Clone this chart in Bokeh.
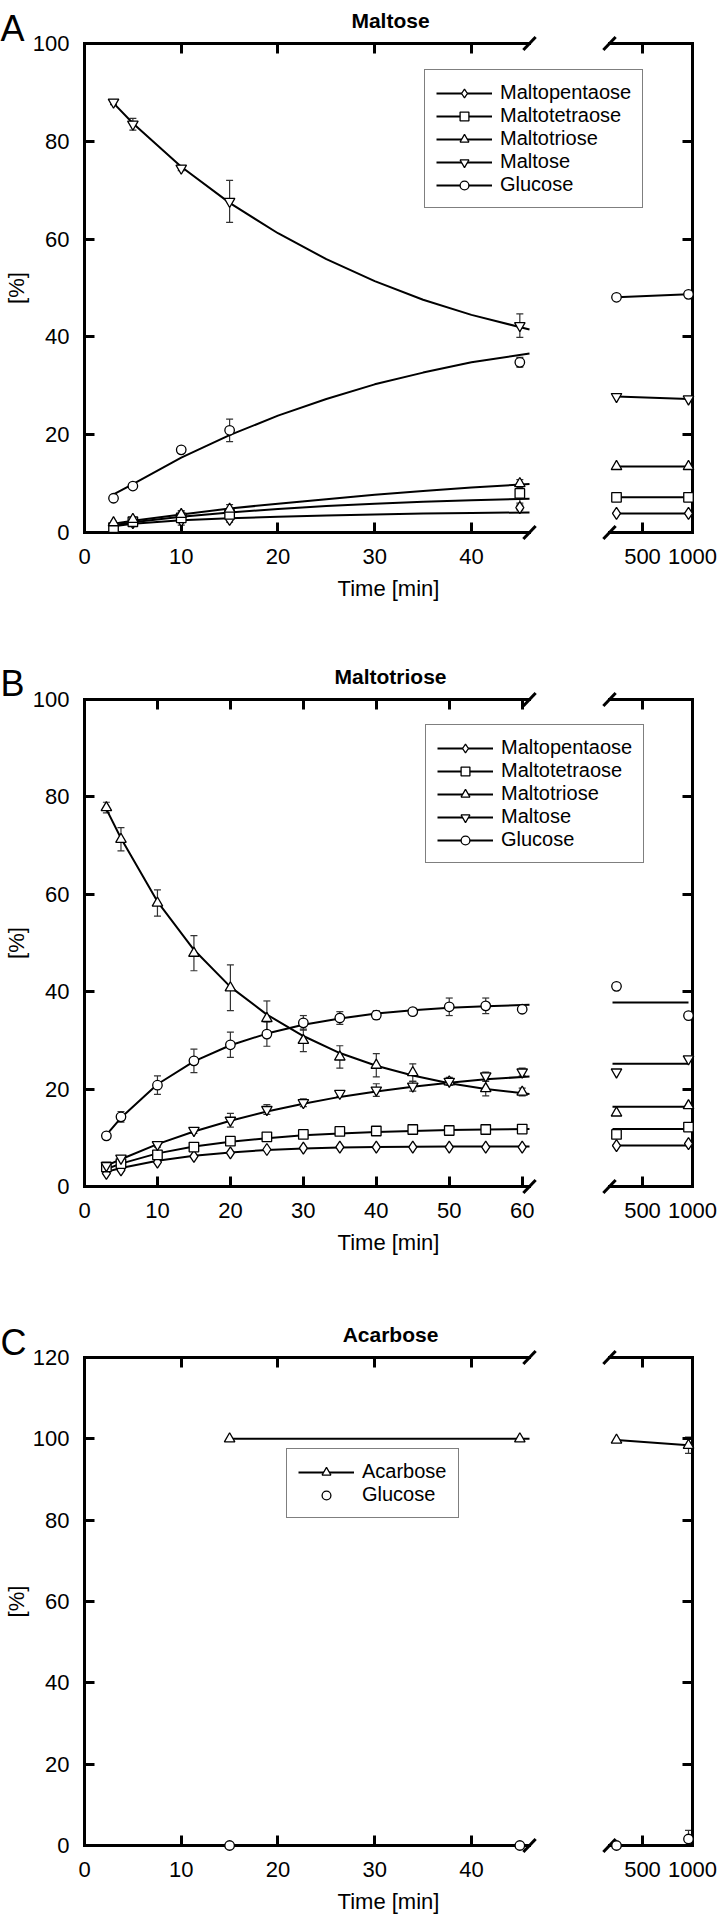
import numpy as np
from bokeh.plotting import figure
from bokeh.models import (Range1d, LinearAxis, FixedTicker, CustomJSTickFormatter, Legend,
                          LegendItem, Whisker, TeeHead, ColumnDataSource)
from bokeh.core.properties import value
from bokeh.layouts import column
from bokeh.embed import file_html
from bokeh.resources import INLINE

FONT = "Liberation Sans"

# ------------------------------------------------------------------ data
# Panel A : Maltose as substrate
A_time = [3, 5, 10, 15, 45]
A_pentaose = [1.2, 2.0, 2.5, 2.7, 5.1]
A_pentaose_err = [0.2, 0.2, 0.3, 0.6, 0.5]
A_tetraose = [1.0, 2.2, 3.0, 3.7, 8.0]
A_tetraose_err = [0.3, 0.3, 1.5, 0.5, 2.0]
A_triose = [2.0, 2.7, 3.7, 4.8, 10.0]
A_triose_err = [0.3, 0.3, 0.5, 0.9, 0.8]
A_maltose = [88.0, 83.5, 74.5, 67.7, 42.3]
A_maltose_err = [0.5, 1.2, 0.5, 4.3, 2.4]
A_glucose = [7.0, 9.5, 16.9, 20.9, 34.8]
A_glucose_err = [0.3, 0.3, 0.3, 2.3, 1.0]

A_fit_time = [3, 5, 10, 15, 20, 25, 30, 35, 40, 46]
A_fit_pentaose = [1.3, 1.8, 2.5, 2.9, 3.2, 3.5, 3.7, 3.9, 4.0, 4.1]
A_fit_tetraose = [1.5, 2.1, 3.2, 4.1, 4.8, 5.4, 5.9, 6.3, 6.6, 6.9]
A_fit_triose = [1.8, 2.4, 3.7, 4.9, 5.9, 6.8, 7.7, 8.5, 9.2, 9.9]
A_fit_maltose = [87.8, 83.7, 74.8, 67.4, 61.2, 55.9, 51.4, 47.6, 44.5, 41.5]
A_fit_glucose = [7.8, 9.9, 15.3, 19.9, 23.9, 27.3, 30.3, 32.7, 34.8, 36.6]

A_late_time = [240, 960]
A_late_pentaose = [3.9, 3.9]
A_late_tetraose = [7.2, 7.2]
A_late_triose = [13.5, 13.5]
A_late_maltose = [27.8, 27.3]
A_late_glucose = [48.1, 48.7]

# Panel B : Maltotriose as substrate
B_time = [3, 5, 10, 15, 20, 25, 30, 35, 40, 45, 50, 55, 60]
B_pentaose = [2.7, 3.4, 5.0, 6.2, 6.9, 7.6, 7.9, 8.1, 8.1, 8.1, 8.1, 8.1, 8.1]
B_pentaose_err = [0.2] * 13
B_tetraose = [4.0, 4.7, 6.5, 8.1, 9.3, 10.2, 10.7, 11.3, 11.4, 11.7, 11.5, 11.7, 11.8]
B_tetraose_err = [0.3] * 13
B_triose = [77.8, 71.3, 58.2, 47.9, 40.8, 34.5, 30.0, 26.6, 24.9, 23.4, 21.5, 20.1, 19.4]
B_triose_err = [1.1, 2.4, 2.7, 3.6, 4.7, 3.6, 2.3, 2.3, 2.4, 1.8, 0.7, 1.5, 0.8]
B_maltose = [4.3, 5.8, 8.6, 11.5, 13.6, 15.8, 17.2, 19.1, 19.8, 20.6, 21.6, 22.7, 23.5]
B_maltose_err = [0.3, 0.4, 0.5, 0.6, 1.4, 1.0, 0.8, 0.6, 1.3, 1.0, 0.8, 0.8, 0.8]
B_glucose = [10.4, 14.3, 20.8, 25.8, 29.1, 31.3, 33.6, 34.6, 35.2, 35.9, 36.9, 37.1, 36.4]
B_glucose_err = [0.3, 1.1, 1.9, 2.4, 2.6, 2.5, 1.5, 1.3, 0.9, 0.5, 1.8, 1.6, 0.5]

B_fit_time = [3, 5, 10, 15, 20, 25, 30, 35, 40, 45, 50, 55, 61]
B_fit_pentaose = [3.0, 3.8, 5.3, 6.3, 7.0, 7.5, 7.8, 8.0, 8.1, 8.15, 8.2, 8.2, 8.2]
B_fit_tetraose = [3.6, 4.7, 6.8, 8.2, 9.2, 9.9, 10.5, 10.9, 11.2, 11.4, 11.6, 11.7, 11.8]
B_fit_triose = [77.5, 71.5, 58.5, 48.6, 41.0, 35.3, 30.9, 27.4, 24.8, 22.8, 21.2, 20.0, 19.0]
B_fit_maltose = [4.3, 5.6, 8.7, 11.3, 13.5, 15.4, 17.0, 18.4, 19.5, 20.5, 21.3, 22.0, 22.6]
B_fit_glucose = [10.6, 14.1, 21.0, 25.7, 29.0, 31.4, 33.2, 34.5, 35.5, 36.2, 36.7, 37.0, 37.3]

B_late_time = [240, 960]
B_late_pentaose = [8.4, 8.8]
B_late_tetraose = [10.7, 12.2]
B_late_triose = [15.1, 16.6]
B_late_maltose = [23.5, 26.2]
B_late_glucose = [41.1, 35.1]

B_plateau_time = [200, 960]
B_plateau_pentaose = [8.4, 8.4]
B_plateau_tetraose = [11.8, 11.8]
B_plateau_triose = [16.4, 16.4]
B_plateau_maltose = [25.2, 25.2]
B_plateau_glucose = [37.8, 37.8]

# Panel C : Acarbose
C_time = [15, 45]
C_acarbose = [100.0, 100.0]
C_glucose = [0.0, 0.0]
C_fit_time = [15, 46]
C_fit_acarbose = [100.0, 100.0]
C_late_time = [240, 960]
C_late_acarbose = [99.7, 98.4]
C_late_acarbose_err = [0.0, 2.0]
C_late_glucose = [0.0, 1.6]
C_late_glucose_err = [0.0, 2.1]

# axes / ticks
A_xticks = [0, 10, 20, 30, 40]
B_xticks = [0, 10, 20, 30, 40, 50, 60]
C_xticks = [0, 10, 20, 30, 40]
late_xticks = [500, 1000]
late_range = (170, 1000)
AB_yticks = [0, 20, 40, 60, 80, 100]
C_yticks = [0, 20, 40, 60, 80, 100, 120]

# ------------------------------------------------------------------ styles
MARK = {
    "Maltopentaose": ("diamond", 12),
    "Maltotetraose": ("square", 9.5),
    "Maltotriose": ("triangle", 10.5),
    "Maltose": ("inverted_triangle", 10.5),
    "Glucose": ("circle", 9.5),
    "Acarbose": ("triangle", 10.5),
}

WIDTH = 720
BORDER_L, BORDER_R = 84, 28
FRAME_W = WIDTH - BORDER_L - BORDER_R      # 608
LEFT_PX = 445                              # end of the left (minutes) segment
LATE_PX = 525                              # start of the right (late) segment


def style_axis(ax, labels=True, standoff=16, line=True):
    ax.axis_line_width = 3
    ax.axis_line_color = "black" if line else None
    ax.major_tick_in = 10
    ax.major_tick_out = 0
    ax.major_tick_line_width = 3
    ax.major_tick_line_color = "black"
    ax.minor_tick_line_color = None
    ax.major_label_text_font = FONT
    ax.major_label_text_font_size = "22px"
    ax.major_label_text_color = "black"
    ax.major_label_standoff = standoff
    ax.axis_label_text_font = FONT
    ax.axis_label_text_font_size = "22px"
    ax.axis_label_text_font_style = "normal"
    ax.axis_label_text_color = "black"
    if not labels:
        ax.formatter = CustomJSTickFormatter(code="return ''")
        ax.major_label_standoff = 0


def make_panel(height, top, bottom, xmax, xticks, ymax, yticks, letter, title, letter_dy):
    main_end = xmax * FRAME_W / LEFT_PX
    ls, le = late_range
    late_start = (ls * FRAME_W - le * LATE_PX) / (FRAME_W - LATE_PX)
    p = figure(width=WIDTH, height=height, x_range=Range1d(0, main_end),
               y_range=Range1d(0, ymax), output_backend="svg", toolbar_location=None,
               min_border_left=BORDER_L, min_border_right=BORDER_R,
               min_border_top=top, min_border_bottom=bottom,
               x_axis_location="below", y_axis_location="left")
    p.extra_x_ranges = {"late": Range1d(late_start, le)}
    p.outline_line_color = None
    p.xgrid.visible = False
    p.ygrid.visible = False
    p.background_fill_color = "white"
    p.border_fill_color = "white"

    def to_main(v):
        return main_end * (v - late_start) / (le - late_start)

    late_pos = [to_main(v) for v in late_xticks]
    # bottom axis: minutes + late ticks on one line
    bx = p.xaxis[0]
    bx.ticker = FixedTicker(ticks=list(xticks) + late_pos)
    bx.major_label_overrides = {pos: str(v) for pos, v in zip(late_pos, late_xticks)}
    style_axis(bx, True, 16, line=False)
    bx.axis_label = "Time [min]"
    bx.axis_label_standoff = 9
    # left axis
    ly = p.yaxis[0]
    ly.ticker = FixedTicker(ticks=yticks)
    style_axis(ly, True, 15)
    ly.axis_label = "[%]"
    ly.axis_label_standoff = 1
    # top axis (ticks only)
    tx = LinearAxis(ticker=FixedTicker(ticks=list(xticks) + late_pos[:1]))
    style_axis(tx, False, line=False)
    p.add_layout(tx, "above")
    # right axis (ticks only)
    ry = LinearAxis(ticker=FixedTicker(ticks=yticks))
    style_axis(ry, False)
    p.add_layout(ry, "right")

    # broken top / bottom frame lines and break marks
    for yv in (0, ymax):
        p.line([0, xmax], [yv, yv], line_color="black", line_width=3,
               line_cap="square", level="overlay")
        p.line([ls, le], [yv, yv], line_color="black", line_width=3,
               line_cap="square", level="overlay", x_range_name="late")
    p.scatter([xmax, xmax], [0, ymax], marker="dash", size=18, angle=0.82,
              line_color="black", line_width=3, level="overlay")
    p.scatter([ls, ls], [0, ymax], marker="dash", size=18, angle=0.82,
              line_color="black", line_width=3, level="overlay", x_range_name="late")

    # panel letter and title
    p.text(x=[0], y=[ymax], text=[letter], x_offset=-84, y_offset=letter_dy,
           text_font=value(FONT), text_font_size=value("36px"), text_color="black",
           text_align="left", text_baseline="alphabetic", level="overlay")
    p.text(x=[0], y=[ymax], text=[title], x_offset=306, y_offset=-23,
           text_font=value(FONT), text_font_size=value("21px"), text_font_style="bold",
           text_color="black", text_align="center", text_baseline="alphabetic",
           level="overlay")
    return p


def add_whiskers(p, t, vals, errs, range_name="default"):
    keep = [i for i, e in enumerate(errs) if e > 0]
    if not keep:
        return
    v = np.array(vals, dtype=float)[keep]
    e = np.array(errs, dtype=float)[keep]
    src = ColumnDataSource(dict(t=[t[i] for i in keep], lo=v - e, hi=v + e))
    w = Whisker(source=src, base="t", lower="lo", upper="hi", dimension="height",
                line_color="#333333", line_width=1.2, x_range_name=range_name,
                upper_head=TeeHead(size=7, line_color="#333333", line_width=1.2),
                lower_head=TeeHead(size=7, line_color="#333333", line_width=1.2))
    p.add_layout(w)


def add_series(p, name, t, vals, errs, fit_t, fit_v, late_t, late_v, late_err,
               late_line_t, late_line_v):
    marker, size = MARK[name]
    line_r = None
    if fit_t is not None:
        line_r = p.line(fit_t, fit_v, line_color="black", line_width=2)
    if errs is not None:
        add_whiskers(p, t, vals, errs)
    sc = p.scatter(t, vals, marker=marker, size=size, fill_color="white",
                   line_color="black", line_width=1.3, level="overlay")
    if late_line_t is not None:
        p.line(late_line_t, late_line_v, line_color="black", line_width=2,
               x_range_name="late")
    if late_err is not None:
        add_whiskers(p, late_t, late_v, late_err, "late")
    p.scatter(late_t, late_v, marker=marker, size=size, fill_color="white",
              line_color="black", line_width=1.3, level="overlay", x_range_name="late")
    return LegendItem(label=name, renderers=[r for r in (line_r, sc) if r is not None])


def add_legend(p, items, loc):
    leg = Legend(items=items, location=loc)
    leg.label_text_font = FONT
    leg.label_text_font_size = "20px"
    leg.label_text_color = "black"
    leg.glyph_width = 56
    leg.glyph_height = 22
    leg.label_height = 22
    leg.label_standoff = 8
    leg.spacing = 0
    leg.padding = 11
    leg.margin = 0
    leg.border_line_color = "black"
    leg.border_line_width = 1.5
    leg.background_fill_color = "white"
    leg.background_fill_alpha = 1.0
    p.add_layout(leg)


# ------------------------------------------------------------------ panel A
pA = make_panel(640, 43, 108, 46, A_xticks, 100, AB_yticks, "A", "Maltose", -15)
A_series = [
    ("Maltopentaose", A_pentaose, A_pentaose_err, A_fit_pentaose, A_late_pentaose),
    ("Maltotetraose", A_tetraose, A_tetraose_err, A_fit_tetraose, A_late_tetraose),
    ("Maltotriose", A_triose, A_triose_err, A_fit_triose, A_late_triose),
    ("Maltose", A_maltose, A_maltose_err, A_fit_maltose, A_late_maltose),
    ("Glucose", A_glucose, A_glucose_err, A_fit_glucose, A_late_glucose),
]
itemsA = [add_series(pA, n, A_time, v, e, A_fit_time, fv, A_late_time, lv, None,
                     A_late_time, lv) for n, v, e, fv, lv in A_series]
add_legend(pA, itemsA, (340, 324))

# ------------------------------------------------------------------ panel B
pB = make_panel(650, 59, 104, 61, B_xticks, 100, AB_yticks, "B", "Maltotriose", -16)
B_series = [
    ("Maltopentaose", B_pentaose, B_pentaose_err, B_fit_pentaose, B_late_pentaose, B_plateau_pentaose),
    ("Maltotetraose", B_tetraose, B_tetraose_err, B_fit_tetraose, B_late_tetraose, B_plateau_tetraose),
    ("Maltotriose", B_triose, B_triose_err, B_fit_triose, B_late_triose, B_plateau_triose),
    ("Maltose", B_maltose, B_maltose_err, B_fit_maltose, B_late_maltose, B_plateau_maltose),
    ("Glucose", B_glucose, B_glucose_err, B_fit_glucose, B_late_glucose, B_plateau_glucose),
]
itemsB = [add_series(pB, n, B_time, v, e, B_fit_time, fv, B_late_time, lv, None,
                     B_plateau_time, pv) for n, v, e, fv, lv, pv in B_series]
add_legend(pB, itemsB, (341, 323))

# ------------------------------------------------------------------ panel C
pC = make_panel(631, 67, 76, 46, C_xticks, 120, C_yticks, "C", "Acarbose", -15)
itemsC = [
    add_series(pC, "Acarbose", C_time, C_acarbose, None, C_fit_time, C_fit_acarbose,
               C_late_time, C_late_acarbose, C_late_acarbose_err, C_late_time, C_late_acarbose),
    add_series(pC, "Glucose", C_time, C_glucose, None, None, None,
               C_late_time, C_late_glucose, C_late_glucose_err, None, None),
]
add_legend(pC, itemsC, (202, 327))

layout = column(pA, pB, pC)
open("out.html", "w").write(file_html(layout, INLINE))
